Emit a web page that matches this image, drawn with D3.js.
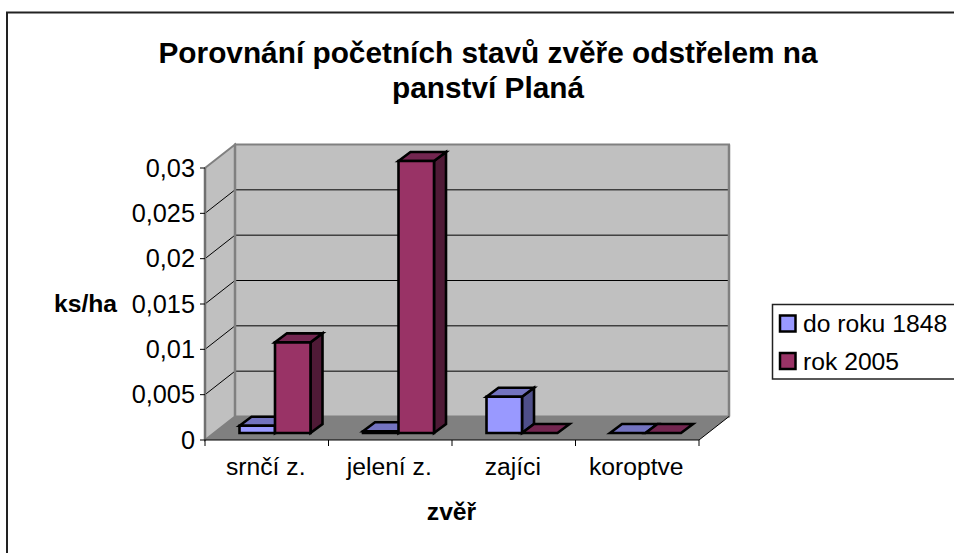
<!DOCTYPE html>
<html><head><meta charset="utf-8">
<script src="https://cdn.jsdelivr.net/npm/d3@7"></script>
<style>html,body{margin:0;padding:0;background:#fff;overflow:hidden}svg{display:block}text{font-family:"Liberation Sans",Arial,sans-serif;fill:#000}</style>
</head><body><svg id="c" width="954" height="553"></svg>
<script>
const titleLines = ["Porovnání početních stavů zvěře odstřelem na", "panství Planá"];
const categories = ["srnčí z.", "jelení z.", "zajíci", "koroptve"];
const seriesNames = ["do roku 1848", "rok 2005"];
const values1848 = [0.0008, 0.0002, 0.004, 0];
const values2005 = [0.01, 0.03, 0, 0];
const yTicks = [0, 0.005, 0.01, 0.015, 0.02, 0.025, 0.03];
const yAxisTitle = "ks/ha";
const xAxisTitle = "zvěř";
const colors = [{front:"#9999ff",top:"#7373c0",side:"#4f4f8a"},{front:"#993366",top:"#732650",side:"#4f1a36"}];

const svg = d3.select("#c");
const fmt = v => String(v).replace(".", ",");
const L = 205, R = 699, B = 440, T = 168, DX = 30, DY = -23.5;
const x = d3.scaleBand().domain(categories).range([L, R]);
const y = d3.scaleLinear().domain([0, 0.03]).range([B, T]);
const poly = (pts, fill, stroke, sw) => svg.append("polygon").attr("points", pts.map(p => p.join(",")).join(" ")).attr("fill", fill).attr("stroke", stroke).attr("stroke-width", sw).attr("stroke-linejoin", "miter");

// frame: only the top and left edges fall inside the picture
svg.append("path").attr("d", "M7,553 V12.5 H954").attr("fill", "none").attr("stroke", "#222").attr("stroke-width", 2);

// title
svg.append("g").selectAll("text").data(titleLines).join("text")
  .attr("x", 488).attr("y", (d, i) => 63 + i * 34.5).attr("text-anchor", "middle")
  .attr("font-size", 29.8).attr("font-weight", "bold").text(d => d);

// walls and floor
poly([[L + DX, T + DY], [R + DX, T + DY], [R + DX, B + DY], [L + DX, B + DY]], "#c0c0c0", "#808080", 2);
poly([[L, T], [L + DX, T + DY], [L + DX, B + DY], [L, B]], "#c0c0c0", "#808080", 2);
poly([[L, B], [L + DX, B + DY], [R + DX, B + DY], [R, B]], "#808080", "none", 0);

// gridlines
yTicks.slice(1, -1).forEach(t => {
  svg.append("polyline").attr("fill", "none").attr("stroke", "#000").attr("stroke-width", 1)
    .attr("points", `${L},${y(t)} ${L + DX},${y(t) + DY} ${R + DX},${y(t) + DY}`);
});

// redraw back edges above the gridlines
svg.append("line").attr("x1", L + DX).attr("x2", L + DX).attr("y1", T + DY).attr("y2", B + DY).attr("stroke", "#808080").attr("stroke-width", 2.5);
svg.append("line").attr("x1", R + DX).attr("x2", R + DX).attr("y1", T + DY).attr("y2", B + DY).attr("stroke", "#808080").attr("stroke-width", 2.5);

// axes
svg.append("line").attr("x1", L).attr("x2", L).attr("y1", T).attr("y2", B).attr("stroke", "#707070").attr("stroke-width", 2.5);
svg.append("line").attr("x1", L).attr("x2", R).attr("y1", B).attr("y2", B).attr("stroke", "#000").attr("stroke-width", 1);
svg.append("line").attr("x1", R).attr("x2", R + DX).attr("y1", B).attr("y2", B + DY).attr("stroke", "#000").attr("stroke-width", 1);
const tickXs = categories.map(c => x(c)).concat([R]);
tickXs.forEach(tx => svg.append("line").attr("x1", tx).attr("x2", tx).attr("y1", B).attr("y2", B + 6).attr("stroke", "#000"));
yTicks.forEach(t => {
  svg.append("line").attr("x1", L - 5).attr("x2", L).attr("y1", y(t)).attr("y2", y(t)).attr("stroke", "#000");
  svg.append("text").attr("x", L - 10).attr("y", y(t) + 8.5).attr("text-anchor", "end").attr("font-size", 25.3).text(fmt(t));
});

// bars
const PDX = 9, PDY = -7, BDX = 12, BDY = -9, GAP = 34.5, BW = 35.5;
function bar(cat, s, v) {
  const c = colors[s];
  const x0 = x(cat) + GAP + s * BW, x1 = x0 + BW;
  const yb = B + PDY, yt = y(v) + PDY;
  const sw = 2.6;
  if (v > 0) {
    poly([[x1, yb], [x1 + BDX, yb + BDY], [x1 + BDX, yt + BDY], [x1, yt]], c.side, "#000", sw);
  }
  poly([[x0, yt], [x0 + BDX, yt + BDY], [x1 + BDX, yt + BDY], [x1, yt]], c.top, "#000", sw);
  if (v > 0) poly([[x0, yb], [x1, yb], [x1, yt], [x0, yt]], c.front, "#000", sw);
}
categories.forEach((cat, i) => {
  bar(cat, 0, values1848[i]);
  bar(cat, 1, values2005[i]);
  svg.append("text").attr("x", x(cat) + x.bandwidth() / 2 - 1).attr("y", 475).attr("text-anchor", "middle").attr("font-size", 24.7).text(cat);
});

// axis titles
svg.append("text").attr("x", 85.5).attr("y", 312).attr("text-anchor", "middle").attr("font-size", 24.7).attr("font-weight", "bold").text(yAxisTitle);
svg.append("text").attr("x", 451.5).attr("y", 520).attr("text-anchor", "middle").attr("font-size", 24.7).attr("font-weight", "bold").text(xAxisTitle);

// legend
svg.append("rect").attr("x", 772.5).attr("y", 304.5).attr("width", 190).attr("height", 74.5).attr("fill", "#fff").attr("stroke", "#222").attr("stroke-width", 1.5);
seriesNames.forEach((n, i) => {
  const ly = 323.5 + i * 37.5;
  svg.append("rect").attr("x", 780).attr("y", ly - 8).attr("width", 15.5).attr("height", 16).attr("fill", colors[i].front).attr("stroke", "#000").attr("stroke-width", 2.5);
  svg.append("text").attr("x", 803).attr("y", ly + 8.5).attr("font-size", 24.7).text(n);
});
</script></body></html>
